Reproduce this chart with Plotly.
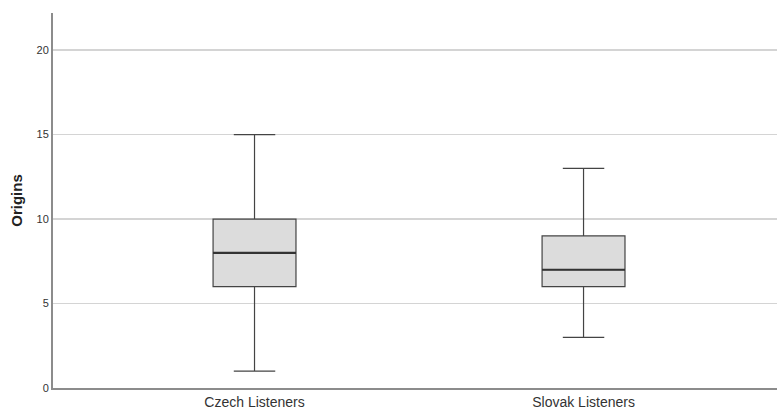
import plotly.graph_objects as go

groups = ["Czech Listeners", "Slovak Listeners"]
mins = [1, 3]
q1s = [6, 6]
medians = [8, 7]
q3s = [10, 9]
maxs = [15, 13]

positions = [0, 1]
box_w = 0.252

fig = go.Figure()
fig.add_trace(go.Box(
    x=positions,
    q1=q1s, median=medians, q3=q3s,
    lowerfence=mins, upperfence=maxs,
    width=box_w, whiskerwidth=0.5,
    fillcolor="#dcdcdc",
    line=dict(color="#444444", width=1.2),
    boxpoints=False, hoverinfo="skip", showlegend=False,
))
for p, m in zip(positions, medians):
    fig.add_trace(go.Scatter(
        x=[p - box_w / 2, p + box_w / 2], y=[m, m], mode="lines",
        line=dict(color="#333333", width=2.2), showlegend=False, hoverinfo="skip",
    ))

fig.update_layout(
    width=777, height=409,
    margin=dict(l=53, r=0, t=13, b=21),
    plot_bgcolor="white", paper_bgcolor="white",
    font=dict(family="Liberation Sans, Arial, sans-serif", color="#222222"),
)
fig.update_xaxes(
    range=[-0.6125, 1.588], tickvals=positions, ticktext=groups,
    showgrid=False, zeroline=False, showline=True, linecolor="#8c8c8c", linewidth=2,
    tickfont=dict(size=14, color="#333333"), ticks="", automargin=False,
)
fig.update_yaxes(
    range=[0, 22.2], tickvals=[0, 5, 10, 15, 20],
    showgrid=True, gridcolor="#d4d4d4", gridwidth=1.5, zeroline=False,
    showline=True, linecolor="#8c8c8c", linewidth=2,
    tickfont=dict(size=11, color="#333333"), ticks="", automargin=False,
    title=dict(text="<b>Origins</b>", font=dict(size=15, color="#222222"), standoff=10),
)
fig.write_html(
    "out.html",
    config={"displayModeBar": False, "staticPlot": True},
    post_script="document.body.style.margin='0';document.body.style.overflow='hidden';",
)
